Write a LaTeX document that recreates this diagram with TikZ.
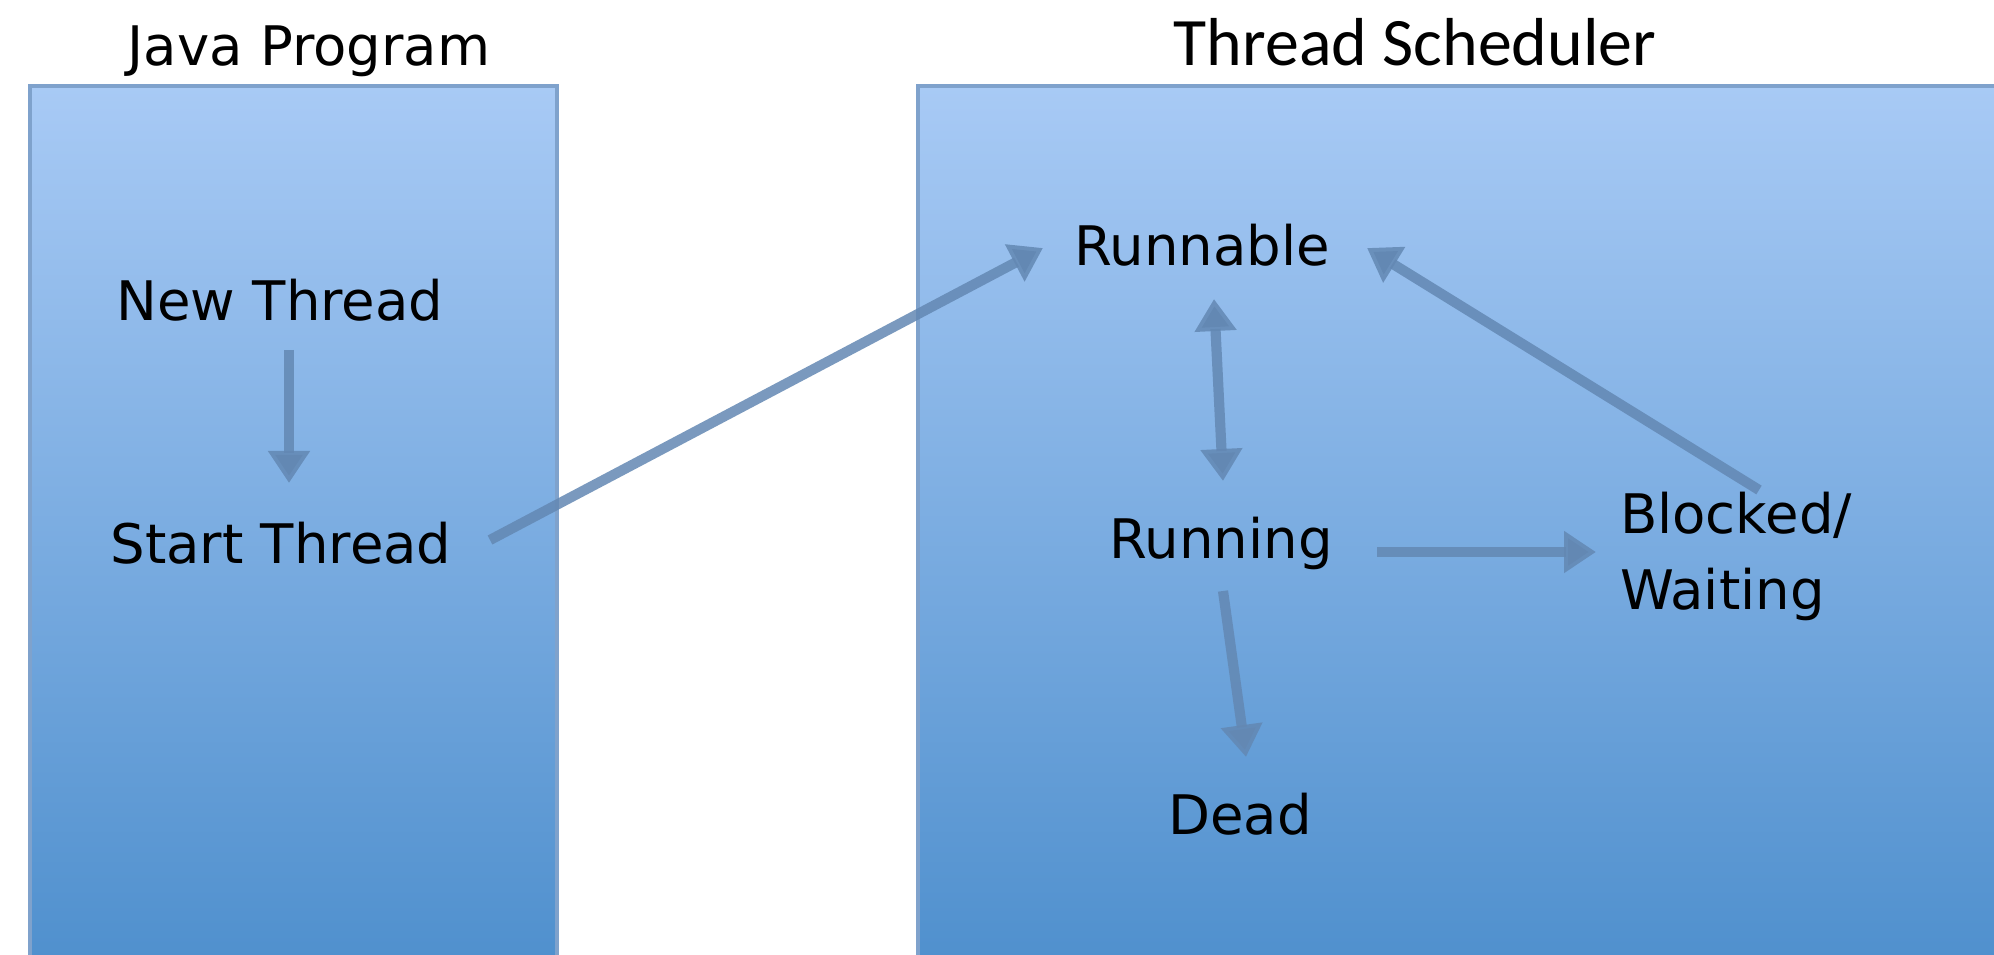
\documentclass[tikz,border=0pt]{standalone}
\usepackage{fontspec}
\setmainfont{DejaVu Sans}
\newfontfamily\calib{Carlito}
\usetikzlibrary{arrows.meta,calc}
\definecolor{boxtop}{HTML}{A8CAF5}
\definecolor{boxbot}{HTML}{4E8FCD}
\definecolor{boxedge}{HTML}{7FA2CC}
\definecolor{arrowc}{HTML}{6388B3}
\tikzset{
  lbl/.style={inner sep=0pt, font=\fontsize{15.5}{21.6}\selectfont, text=black},
  conn/.style={draw=arrowc, draw opacity=0.85, line width=2.9pt,
    -{Triangle[width=0.4cm,length=0.32cm,fill=arrowc]}},
  conn2/.style={draw=arrowc, draw opacity=0.85, line width=2.9pt,
    {Triangle[width=0.4cm,length=0.32cm,fill=arrowc]}-{Triangle[width=0.4cm,length=0.32cm,fill=arrowc]}},
  panel/.style={top color=boxtop, bottom color=boxbot, draw=boxedge, line width=1.2pt}
}
\begin{document}
\begin{tikzpicture}[x=0.01cm,y=-0.01cm]
\useasboundingbox (0,0) rectangle (1994,955);
\fill[white] (0,0) rectangle (1994,955);
% panels
\path[panel] (30,86) rectangle (557,975);
\path[panel] (918,86) rectangle (2014,975);
% titles
\node[lbl, font=\fontsize{15.5}{18}\selectfont] (jp) at (309,51) {Java Program};
\node[lbl, font=\calib\fontsize{19.3}{22}\selectfont] (ts) at (1415,42) {Thread Scheduler};
% states
\node[lbl] (nt) at (280,300) {New Thread};
\node[lbl] (st) at (281,543) {Start Thread};
\node[lbl] (rb) at (1202,245) {Runnable};
\node[lbl] (rn) at (1221,543) {Running};
\node[lbl, align=left] (bw) at (1736,556) {Blocked/\\Waiting};
\node[lbl] (dd) at (1240,814) {Dead};
% connectors
\draw[conn] ([shift={(9,50)}]nt.center) -- ([shift={(8,-60)}]st.center);
\draw[conn] ([shift={(209,-3)}]st.center) -- ([shift={(-159,3)}]rb.center);
\draw[conn2] ([shift={(12,54)}]rb.center) -- ([shift={(2,-62)}]rn.center);
\draw[conn] ([shift={(23,-66)}]bw.center) -- ([shift={(165,3)}]rb.center);
\draw[conn] ([shift={(156,9)}]rn.center) -- ([shift={(-140,-4)}]bw.center);
\draw[conn] ([shift={(2,48)}]rn.center) -- ([shift={(6,-57)}]dd.center);
\end{tikzpicture}
\end{document}
